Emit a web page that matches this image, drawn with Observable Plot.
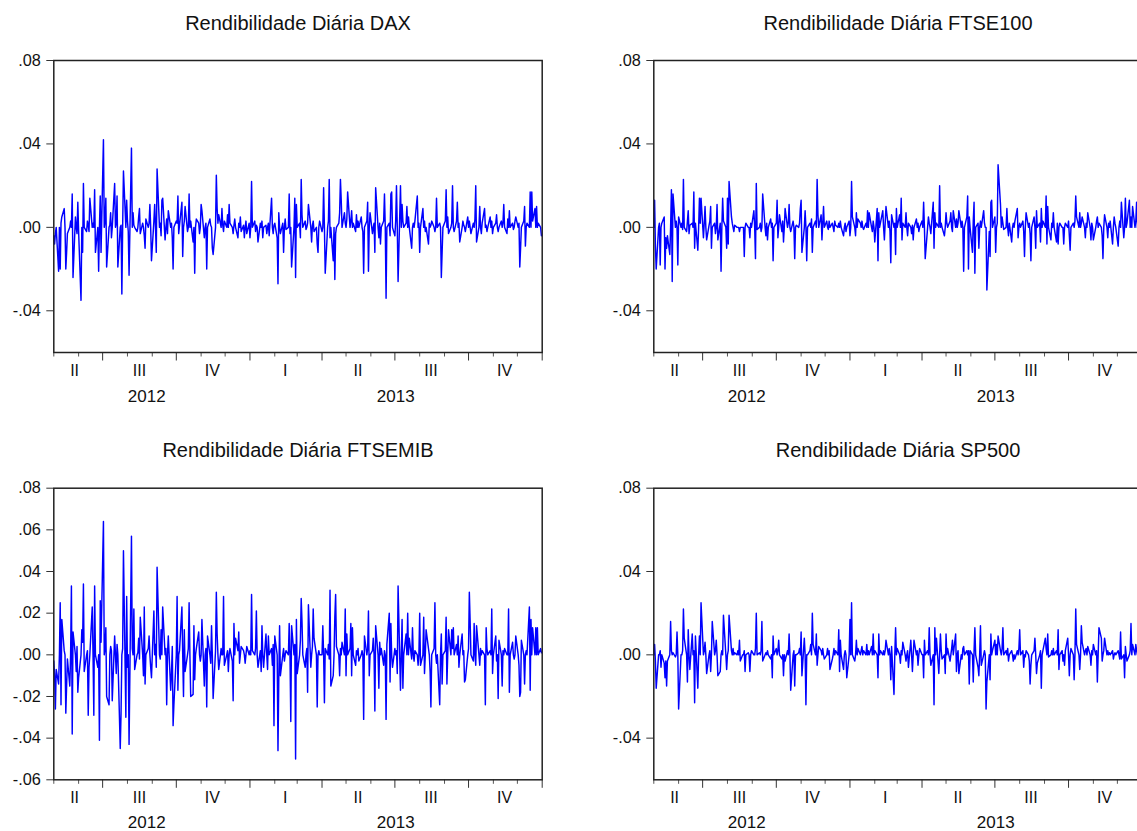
<!DOCTYPE html>
<html><head><meta charset="utf-8">
<script src="https://cdn.jsdelivr.net/npm/d3@7"></script>
<script src="https://cdn.jsdelivr.net/npm/@observablehq/plot@0.6"></script>
<style>
html,body{margin:0;padding:0;background:#fff}
body{width:1137px;height:831px;overflow:hidden;position:relative;font-family:"Liberation Sans",Arial,sans-serif}
.panel{position:absolute;width:600px}
.panel svg{overflow:visible;max-width:none !important;width:600px}
</style></head><body>
<div id="p0" class="panel" style="left:0;top:0"></div>
<div id="p1" class="panel" style="left:600px;top:0"></div>
<div id="p2" class="panel" style="left:0;top:420px"></div>
<div id="p3" class="panel" style="left:600px;top:420px"></div>
<script>
// Daily returns, in thousandths (12 = 0.012), one value per trading day, May 2012 – Dec 2013
const dax = [
-4,-8,-3,0,-21,0,-20,2,5,9,0,-20,-12,-3,0,3,0,16,-24,5,
0,-3,12,-2,-35,0,-12,21,0,-2,3,1,-2,14,0,2,0,18,-12,0,
-21,0,15,-12,42,0,3,14,-19,0,1,7,-5,0,21,0,2,15,-19,0,
1,-32,0,27,0,13,3,-2,-23,38,0,7,1,0,-2,0,5,9,-3,2,
0,-4,-10,4,0,2,11,0,-16,3,11,0,-12,28,0,2,-4,13,14,-6,
0,4,-3,8,0,2,-5,-20,0,3,2,15,-3,1,12,-14,0,3,10,-2,
0,16,0,3,-7,0,-22,0,4,2,-3,0,11,8,-5,0,2,-20,0,4,
1,0,-10,-13,0,25,9,2,6,0,9,1,-2,3,0,6,0,11,2,0,
-3,1,4,0,-5,2,0,5,-2,1,-5,0,3,-3,2,-5,0,22,0,3,
-2,1,0,-7,2,0,3,-5,0,1,-3,0,2,-4,14,0,-3,1,2,-5,
-27,7,0,-3,2,-12,0,4,-1,0,16,-3,0,-19,0,14,-24,11,0,2,
-5,23,6,0,3,-1,0,2,11,0,-7,1,3,-2,0,-8,-12,0,3,-2,
0,19,0,-22,0,3,23,-5,0,-16,0,-25,-3,0,2,7,23,13,0,7,
2,0,4,17,0,3,8,0,2,-2,6,0,3,0,5,0,-2,-22,0,3,
12,-21,0,7,-3,0,2,-12,19,0,-5,2,-8,0,3,16,0,-34,0,2,
-4,16,17,0,-4,3,20,0,-26,20,0,11,3,0,2,10,0,5,0,-10,
0,2,0,3,15,0,2,-12,0,9,0,3,-2,0,-8,2,0,1,3,0,
-2,0,14,0,2,0,-24,-12,0,3,18,0,5,-3,0,2,20,0,-2,3,
12,0,2,-7,0,3,1,0,-2,5,0,3,0,-3,2,0,4,20,-7,0,
10,0,-3,2,9,0,1,-2,0,5,0,3,-3,0,2,6,0,-2,0,3,
0,2,11,0,-3,4,0,8,0,2,-1,0,3,5,0,2,-19,-10,0,3,
10,-9,0,2,0,17,0,17,3,9,0,10,0,2,0,-4];
const ftse100 = [
0,13,-9,-20,0,2,-18,0,2,5,-20,-5,-10,-4,-13,0,18,-26,16,0,
3,0,-18,5,0,2,-1,23,0,-2,3,8,-3,1,2,0,17,-10,2,-11,
0,14,2,14,-5,2,10,0,-6,1,3,10,-10,0,2,-3,0,11,-6,2,
-21,0,14,3,0,-10,14,-8,22,5,2,0,-2,1,0,0,0,-2,0,0,
0,-14,0,2,0,0,-5,2,0,8,0,-15,21,-1,0,2,-2,0,16,0,
-4,2,-6,0,4,0,2,-16,0,2,13,-5,0,6,-2,3,-7,0,9,0,
2,11,0,-2,3,0,-15,0,1,0,2,9,13,-12,0,8,0,-16,0,2,
0,4,-12,0,3,0,23,6,0,6,-6,2,10,0,3,0,-1,3,0,2,
0,-2,3,1,0,2,0,3,0,-4,0,2,-2,0,3,-4,0,22,5,0,
-4,7,0,4,2,0,3,0,-1,2,0,8,0,7,0,-2,3,0,-7,9,
-16,7,0,2,8,0,-6,2,10,0,3,-2,-17,6,0,2,-13,9,0,6,
0,14,-6,2,0,7,0,-4,2,0,-3,1,-6,0,4,0,2,-2,0,3,
0,12,0,-15,0,5,2,0,-3,12,-10,7,0,2,0,20,0,2,0,-4,
0,7,2,0,3,7,0,-2,8,0,4,0,2,8,0,3,0,-21,0,5,
15,-20,5,0,-12,3,12,-22,0,2,-10,0,3,0,8,2,0,0,-30,-2,
-14,12,13,0,5,-12,0,2,30,11,0,5,2,-1,0,9,0,-4,2,-7,
0,2,0,3,9,-5,0,2,0,3,-2,-14,0,7,0,2,-3,-16,0,5,
0,-10,8,0,2,-7,9,0,3,0,15,-8,10,0,-6,2,0,7,0,-7,
2,-8,0,2,0,0,-8,0,2,0,3,-4,-11,0,2,0,3,15,5,0,
7,0,2,5,0,-5,2,0,7,0,-6,2,0,-6,0,3,5,0,2,0,
-4,-15,0,6,0,-5,2,0,3,-8,0,5,2,0,-9,0,3,0,12,-5,
0,14,0,2,13,0,5,0,10,0,3,12,0,2,0,4];
const ftsemib = [
-3,-10,-26,-7,-14,0,25,-24,17,2,0,-28,-15,-2,-15,0,33,-38,11,0,
-8,4,-18,-11,0,12,6,34,-8,0,2,-29,-6,0,23,0,-29,33,0,-6,
0,-41,26,6,64,0,3,13,-20,-24,0,4,2,-22,9,0,-9,5,0,-45,
-28,0,3,50,-30,28,-6,0,-43,57,3,0,22,-7,0,1,8,-2,18,0,
-10,23,-14,0,3,9,0,-6,-11,21,0,5,-6,42,0,-2,12,0,23,0,
3,-24,0,9,-17,-9,4,-34,-24,0,28,-17,0,2,23,0,-20,12,-8,0,
3,25,0,-20,-19,14,-12,0,3,11,0,-3,0,17,-15,0,3,-25,9,0,
-4,14,0,-21,2,30,10,0,-7,3,0,0,28,-5,0,2,-8,0,3,-3,
-22,15,0,8,2,11,-4,0,4,2,0,-4,0,4,0,2,0,29,2,0,
3,21,0,-6,2,-8,14,0,-6,10,0,-7,9,0,3,-5,5,-34,9,0,
-46,-12,14,-10,0,3,-3,0,2,0,15,0,-32,14,0,5,-50,17,-9,0,
7,27,16,0,-6,0,3,-18,24,-6,0,4,22,8,0,-25,0,2,0,0,
14,0,-23,3,0,5,-2,31,-15,-10,0,18,29,4,0,-10,3,0,6,0,
22,-10,10,0,3,15,-10,13,0,-5,2,0,3,-3,0,2,0,-31,9,0,
3,21,-10,0,2,8,0,-27,14,0,-16,6,0,3,-5,2,0,-31,5,20,
-13,15,0,-6,3,0,2,-9,33,-17,0,17,-16,0,10,0,20,0,8,-2,
13,0,-3,2,0,-5,0,20,-5,0,18,-9,0,12,3,0,-8,-25,0,3,
25,0,-4,0,-24,0,10,-14,0,2,18,-14,0,12,0,12,3,13,0,5,
0,9,-6,0,10,0,2,-13,-12,0,3,30,16,0,-3,15,0,-5,14,0,
-5,3,0,2,0,-24,13,3,0,2,0,22,-9,0,9,-3,0,-21,7,0,
-15,2,0,3,0,0,22,-18,0,6,0,-2,0,9,0,-5,-20,-18,7,0,
-14,0,2,0,23,-17,17,0,13,0,13,0,13,0,3,1];
const sp500 = [
0,5,-3,-16,0,0,2,-6,0,-4,-11,-3,-15,-3,0,16,2,0,1,-1,
0,11,0,-26,0,0,2,22,8,0,-13,12,0,-7,10,0,2,-23,9,-16,
0,9,0,25,0,2,6,0,-9,0,2,-8,0,16,0,2,7,0,-10,-8,
0,2,0,19,0,-7,0,2,19,2,0,3,0,1,0,2,0,7,-3,0,
0,2,-8,0,1,0,-8,0,2,0,0,3,20,0,1,0,2,16,-3,0,
1,0,2,0,-2,0,-11,9,0,3,0,2,7,0,-2,0,-10,0,-3,2,
0,10,0,-17,0,2,-15,0,0,1,3,0,11,-10,8,0,-24,0,0,2,
5,0,20,5,0,10,-5,0,4,2,0,3,0,-2,0,3,0,2,-7,-2,
0,3,0,2,0,12,-8,7,0,-7,0,2,0,-11,0,17,0,25,0,-3,
0,7,0,3,0,2,4,0,2,0,5,0,2,0,4,0,10,0,2,0,
-11,10,0,2,0,2,0,2,7,0,3,0,-12,4,-19,0,13,0,3,0,
-4,2,0,6,0,-3,0,2,-6,7,0,-8,0,7,0,2,-5,0,3,0,
0,-11,7,0,2,0,13,0,-5,0,-24,13,0,8,-9,0,10,2,-2,0,
-9,10,0,3,-3,0,3,7,0,10,-8,0,2,-9,0,-2,3,4,0,2,
0,2,-14,2,0,-13,2,13,0,-6,-10,0,14,-5,0,2,0,-26,-13,0,
-12,10,0,2,7,0,5,0,9,2,0,3,13,0,2,0,3,-3,0,2,
0,-3,0,-2,2,0,3,12,0,2,-6,0,-1,2,0,-3,-14,-5,0,2,
8,0,-9,-4,0,2,-16,0,2,8,3,0,10,-1,0,2,0,3,0,2,
0,12,-7,0,2,-3,0,-5,2,8,0,-10,0,3,0,-12,0,22,5,0,
-7,0,14,6,0,2,3,0,4,0,-5,2,0,5,0,2,-13,0,13,8,
-3,0,2,8,0,2,0,1,0,2,-2,0,1,0,2,0,-2,11,-2,0,
-11,4,0,-3,0,2,15,0,5,0,5,2,0,3,0,2];

const titles = ["Rendibilidade Diária DAX", "Rendibilidade Diária FTSE100",
                "Rendibilidade Diária FTSEMIB", "Rendibilidade Diária SP500"];
const seriesList = [dax, ftse100, ftsemib, sp500];

const xStart = "2012-05-01", xEnd = "2014-01-01";
const firstDay = "2012-05-01", lastDay = "2013-12-31";
const monthTicks = ["2012-05-01","2012-06-01","2012-08-01","2012-09-01","2012-11-01","2012-12-01",
  "2013-02-01","2013-03-01","2013-05-01","2013-06-01","2013-08-01","2013-09-01","2013-11-01","2013-12-01"];
const quarterTicks = ["2012-07-01","2012-10-01","2013-01-01","2013-04-01","2013-07-01","2013-10-01","2014-01-01"];
const quarterLabels = ["II","III","IV","I","II","III","IV"];
const quarterLabelDates = ["2012-05-27","2012-08-16","2012-11-15","2013-02-14","2013-05-16","2013-08-15","2013-11-15"];
const yearLabels = ["2012","2013"];
const yearLabelDates = ["2012-08-25","2013-07-02"];

const yTicksWide = [0.08, 0.04, 0.00, -0.04];
const yTickLabelsWide = [".08", ".04", ".00", "-.04"];
const yTicksFine = [0.08, 0.06, 0.04, 0.02, 0.00, -0.02, -0.04, -0.06];
const yTickLabelsFine = [".08", ".06", ".04", ".02", ".00", "-.02", "-.04", "-.06"];
const yDomain = [-0.06, 0.08];
const fineTicks = [false, false, true, false];
const isTop = [true, true, false, false];

const D = s => new Date(s + "T00:00:00Z");
// trading-day calendar (weekdays)
const days = [];
for (let t = D(firstDay); t <= D(lastDay); t = new Date(+t + 864e5)) {
  const wd = t.getUTCDay();
  if (wd !== 0 && wd !== 6) days.push(t);
}

function panel(values, title, top, fine) {
  const yt = fine ? yTicksFine : yTicksWide;
  const yl = fine ? yTickLabelsFine : yTickLabelsWide;
  const H = top ? 420 : 411;
  const mt = top ? 60 : 67.7;
  const mb = top ? 68 : 51.7;
  const data = days.map((d, i) => ({date: d, v: values[i] / 1000}));
  const ql = quarterLabels.map((t, i) => ({date: D(quarterLabelDates[i]), t}));
  const yy = yearLabels.map((t, i) => ({date: D(yearLabelDates[i]), t}));
  return Plot.plot({
    width: 600, height: H,
    marginLeft: 53.3, marginRight: 58.3, marginTop: mt, marginBottom: mb,
    style: {fontFamily: '"Liberation Sans", Arial, sans-serif', fontSize: "16px", color: "#111", background: "transparent"},
    x: {type: "utc", domain: [D(xStart), D(xEnd)]},
    y: {domain: yDomain},
    marks: [
      Plot.axisY(yt, {tickSize: 7, tickPadding: 6, tickFormat: v => yl[yt.indexOf(v)], label: null, fontSize: 16.3, stroke: "#333"}),
      Plot.axisX(monthTicks.map(D), {tickSize: 4.5, tickFormat: () => "", label: null, stroke: "#555"}),
      Plot.axisX(quarterTicks.map(D), {tickSize: 8.5, tickFormat: () => "", label: null, stroke: "#333"}),
      Plot.text(ql, {x: "date", text: "t", frameAnchor: "bottom", lineAnchor: "middle", dy: 18.3, fontSize: 16, fill: "#111"}),
      Plot.text(yy, {x: "date", text: "t", frameAnchor: "bottom", lineAnchor: "middle", dy: top ? 44.3 : 42.3, fontSize: 17, fill: "#111"}),
      Plot.line(data, {x: "date", y: "v", stroke: "#0000ff", strokeWidth: 1.45}),
      Plot.frame({stroke: "#222", strokeWidth: 1.5}),
      Plot.text([title], {frameAnchor: "top", dy: -31, lineAnchor: "bottom", fontSize: 20, fill: "#111", style: "word-spacing:-2px"})
    ]
  });
}

["p0","p1","p2","p3"].forEach((id, k) => {
  document.getElementById(id).appendChild(panel(seriesList[k], titles[k], isTop[k], fineTicks[k]));
});
</script>
</body></html>
